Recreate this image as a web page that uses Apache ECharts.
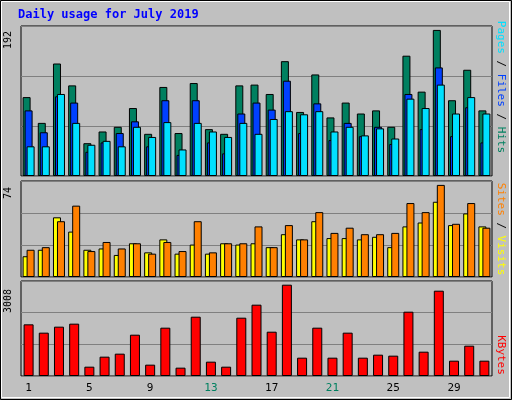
<!DOCTYPE html><html><head><meta charset="utf-8">
<script src="https://cdn.jsdelivr.net/npm/echarts@6/dist/echarts.min.js"></script>
<style>body{margin:0;background:#c0c0c0}#c{width:512px;height:400px}</style></head><body><div id="c"></div>
<script>
const days=['1','2','3','4','5','6','7','8','9','10','11','12','13','14','15','16','17','18','19','20','21','22','23','24','25','26','27','28','29','30','31'];
const weekends=['6','7','13','14','20','21','27','28'];
const hits=[101,68,144,116,42,57,63,87,54,114,55,119,60,54,116,117,105,147,82,130,75,94,80,84,63,154,108,187,97,136,84];
const files=[84,56,102,94,31,43,55,70,38,97,27,97,43,29,80,94,85,122,55,93,46,68,51,63,41,105,60,139,51,88,43];
const pages=[38,38,105,68,40,45,38,63,50,69,34,68,57,50,68,54,73,83,79,83,57,63,52,61,48,99,87,117,80,101,80];
const sites=[16,21,46,35,21,22,17,26,19,29,18,25,18,26,25,26,23,33,29,43,30,30,29,31,23,39,42,58,40,49,39];
const visits=[21,23,43,55,20,27,22,26,18,27,20,43,19,26,26,39,23,40,29,50,34,38,33,33,34,57,50,71,41,57,38];
const kbytes=[1636,1372,1562,1657,295,612,707,1308,359,1530,264,1878,454,295,1846,2258,1403,2891,580,1530,580,1372,580,675,644,2036,770,2701,485,960,485];
const maxes=[192,74,3008];
const ch=echarts.init(document.getElementById('c'));
const F='DejaVu Sans Mono';
const grids=[{left:21,right:20,top:26,height:150},{left:21,right:20,top:181,height:96},{left:21,right:20,top:281,height:95}];
const bs=c=>({color:c,borderColor:'#000',borderWidth:1});
ch.setOption({animation:false,backgroundColor:'#c0c0c0',
grid:grids.map(g=>Object.assign({show:true,borderColor:'#000',borderWidth:1,backgroundColor:'#c0c0c0'},g)),
xAxis:[0,1,2].map(i=>({type:'category',data:days,gridIndex:i,axisLine:{show:false},axisTick:{show:false},
 axisLabel:i<2?{show:false}:{fontFamily:F,fontSize:11,margin:7,color:'#000',formatter:v=>weekends.includes(v)?'{w|'+v+'}':v,rich:{w:{color:'#008060',fontFamily:F,fontSize:11}}}})),
yAxis:[0,1,2].map(i=>({type:'value',gridIndex:i,min:0,max:maxes[i],interval:maxes[i]/3,axisLabel:{show:false},axisLine:{show:false},axisTick:{show:false},splitLine:{lineStyle:{color:'#808080',width:1}}})),
series:[
{type:'bar',xAxisIndex:0,yAxisIndex:0,data:hits,barWidth:8,barGap:'-75%',itemStyle:bs('#008060')},
{type:'bar',xAxisIndex:0,yAxisIndex:0,data:files,barWidth:8,barGap:'-75%',itemStyle:bs('#0040ff')},
{type:'bar',xAxisIndex:0,yAxisIndex:0,data:pages,barWidth:8,barGap:'-75%',itemStyle:bs('#00e0ff')},
{type:'bar',xAxisIndex:1,yAxisIndex:1,data:sites,barWidth:8,barGap:'-50%',itemStyle:bs('#ffff00')},
{type:'bar',xAxisIndex:1,yAxisIndex:1,data:visits,barWidth:8,barGap:'-50%',itemStyle:bs('#ff8000')},
{type:'bar',xAxisIndex:2,yAxisIndex:2,data:kbytes,barWidth:10,itemStyle:bs('#ff0000')}],
graphic:[
{type:'rect',shape:{x:0.5,y:0.5,width:511,height:399},style:{fill:'none',stroke:'#000',lineWidth:1}},
{type:'rect',shape:{x:1.5,y:1.5,width:508,height:396},style:{fill:'none',stroke:'#fff',lineWidth:1}},
{type:'text',left:18,top:9,style:{text:'Daily usage for July 2019',fill:'#0000ff',font:'bold 12px "DejaVu Sans Mono"'}},
{type:'text',x:8,y:40,rotation:Math.PI/2,style:{text:'192',fill:'#000',font:'10px "DejaVu Sans Mono"',align:'center',verticalAlign:'middle'}},
{type:'text',x:8,y:193,rotation:Math.PI/2,style:{text:'74',fill:'#000',font:'10px "DejaVu Sans Mono"',align:'center',verticalAlign:'middle'}},
{type:'text',x:8,y:301,rotation:Math.PI/2,style:{text:'3008',fill:'#000',font:'10px "DejaVu Sans Mono"',align:'center',verticalAlign:'middle'}},
{type:'text',x:501,y:87,rotation:-Math.PI/2,style:{text:'{p|Pages}{s| / }{f|Files}{s| / }{h|Hits}',align:'center',verticalAlign:'middle',font:'11px "DejaVu Sans Mono"',rich:{p:{fill:'#00e0ff',font:'11px "DejaVu Sans Mono"'},f:{fill:'#0040ff',font:'11px "DejaVu Sans Mono"'},h:{fill:'#008060',font:'11px "DejaVu Sans Mono"'},s:{fill:'#000',font:'11px "DejaVu Sans Mono"'}}}},
{type:'text',x:501,y:229,rotation:-Math.PI/2,style:{text:'{v|Sites}{s| / }{w|Visits}',align:'center',verticalAlign:'middle',font:'11px "DejaVu Sans Mono"',rich:{v:{fill:'#ff8000',font:'11px "DejaVu Sans Mono"'},w:{fill:'#ffff00',font:'11px "DejaVu Sans Mono"'},s:{fill:'#000',font:'11px "DejaVu Sans Mono"'}}}},
{type:'text',x:501,y:355,rotation:-Math.PI/2,style:{text:'KBytes',fill:'#ff0000',font:'11px "DejaVu Sans Mono"',align:'center',verticalAlign:'middle'}}
]});
</script></body></html>
